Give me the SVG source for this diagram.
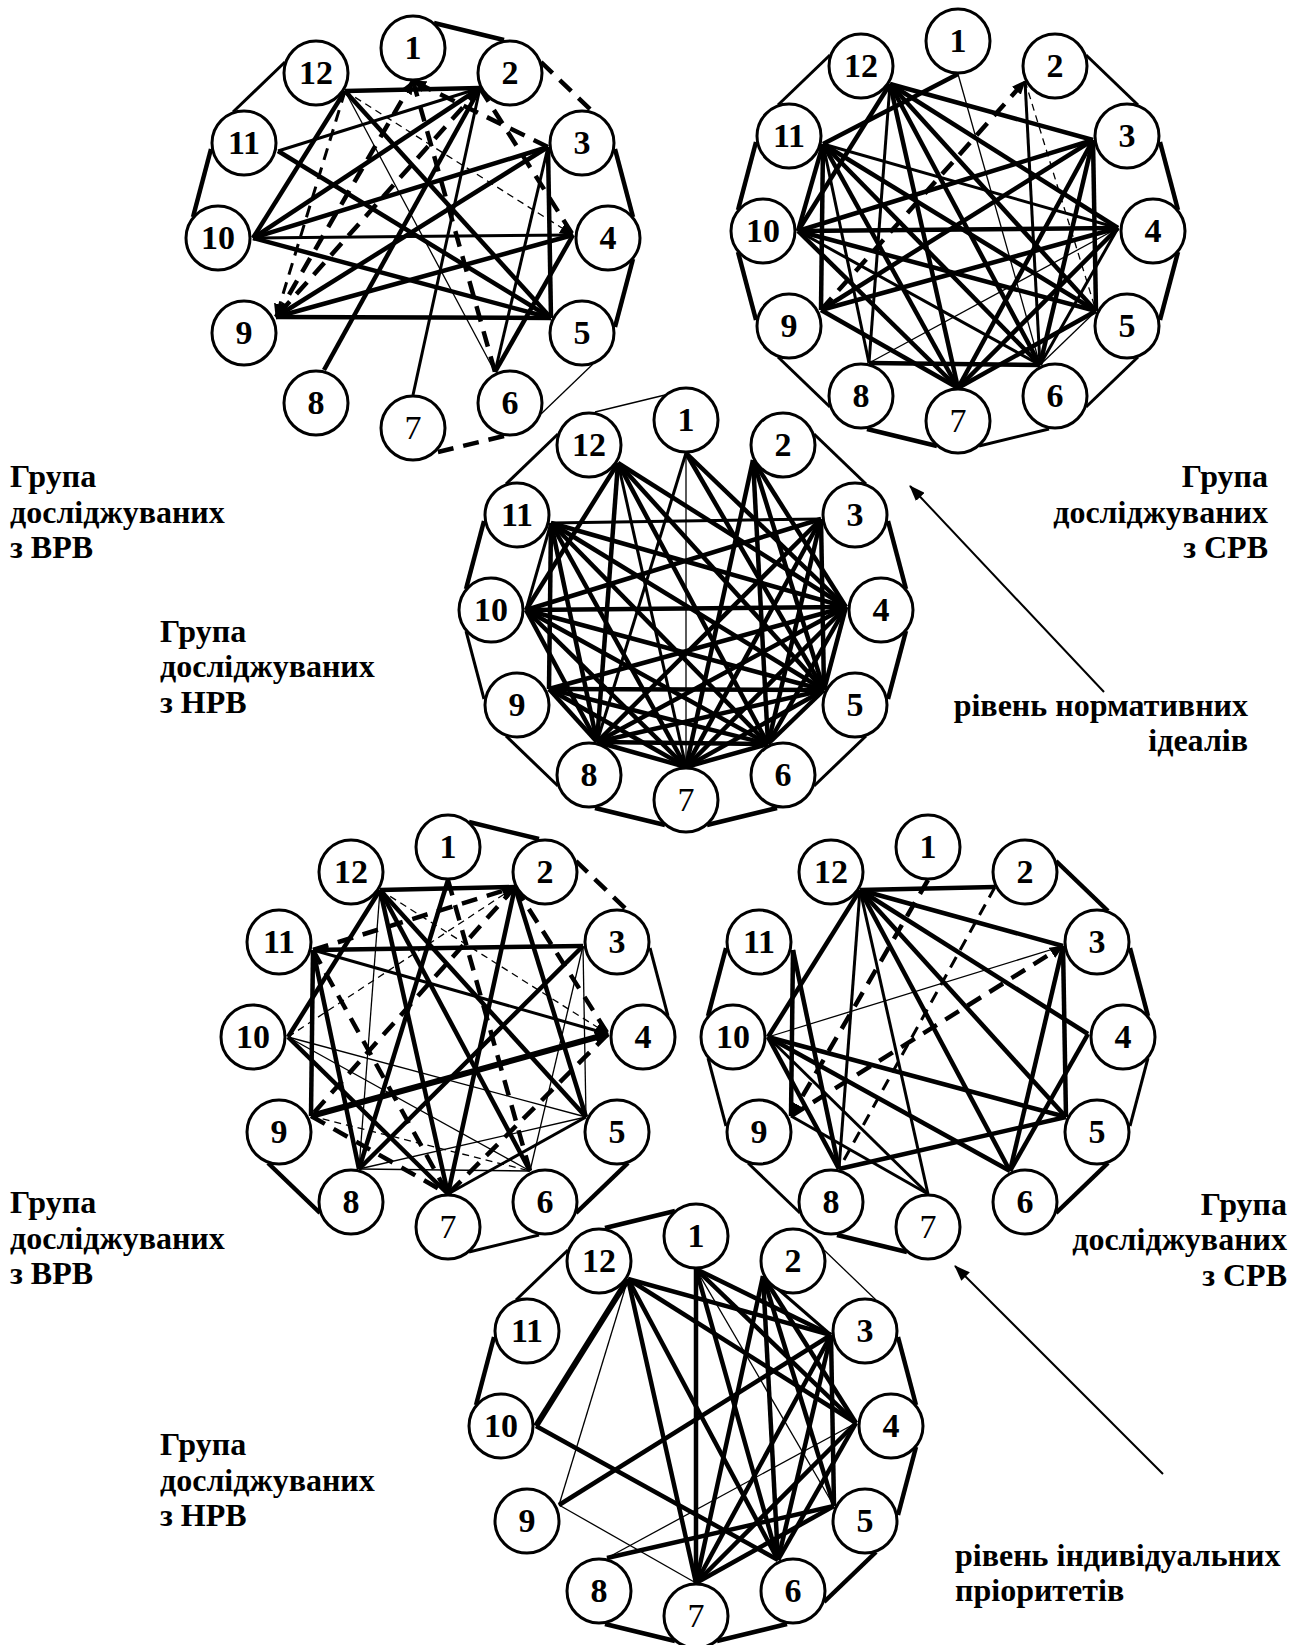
<svg xmlns="http://www.w3.org/2000/svg" width="1299" height="1645" viewBox="0 0 1299 1645">
<style>
.n circle{fill:#fff;stroke:#000;stroke-width:3}
.n text{font-family:"Liberation Serif",serif;font-weight:bold;font-size:34px;text-anchor:middle}
.n text.r{font-weight:normal}
.e path{fill:none;stroke:#000}
.k{stroke-width:4.5}
.x{stroke-width:6}
.m{stroke-width:3}
.s{stroke-width:1.3}
.dk{stroke-width:4.5;stroke-dasharray:16 10}
.dm{stroke-width:3;stroke-dasharray:12 8}
.ds{stroke-width:1.3;stroke-dasharray:7 5}
.lbl{font-family:"Liberation Serif",serif;font-weight:bold;font-size:32px}
.lbl.end{text-anchor:end}
.big{fill:none;stroke:#000;stroke-width:2}
</style>
<defs>
<marker id="ah" markerWidth="14" markerHeight="12" refX="13" refY="6" orient="auto" markerUnits="userSpaceOnUse"><path d="M0,0L14,6L0,12z"/></marker>
<marker id="ab" markerWidth="16" markerHeight="12" refX="15" refY="6" orient="auto" markerUnits="userSpaceOnUse"><path d="M0,0L16,6L0,12z"/></marker>
</defs>
<rect width="1299" height="1645" fill="#fff"/>

<!-- Diagram 1 -->
<g id="d1" transform="translate(413,238)">
<g id="d1-edges" class="e">
<path class="k" d="M-68,-147L67,-150"/>
<path class="k" d="M-68,-147L-160,0"/>
<path class="k" d="M-68,-147L138,80"/>
<path class="k" d="M67,-150L-160,0"/>
<path class="k" d="M67,-150L-89,132"/>
<path class="k" d="M-160,0L135,-91"/>
<path class="k" d="M-160,0L138,80"/>
<path class="k" d="M-135,-87L138,80"/>
<path class="k" d="M-137,79L135,-91"/>
<path class="k" d="M-137,79L160,-3"/>
<path class="k" d="M-137,79L138,80"/>
<path class="k" d="M135,-91L138,80"/>
<path class="k" d="M160,-3L82,134"/>
<path class="m" d="M-160,0L160,-3"/>
<path class="m" d="M67,-150L0,157"/>
<path class="m" d="M67,-150L-135,-87"/>
<path class="m" d="M135,-91L82,134"/>
<path class="s" d="M-68,-147L82,134"/>
<path class="ds" d="M-68,-147L160,-3" marker-end="url(#ah)"/>
<path class="dm" d="M-68,-147L-137,79" marker-end="url(#ah)"/>
<path class="dk" d="M67,-150L-137,79"/>
<path class="dk" d="M-137,79L0,-157" marker-end="url(#ah)"/>
<path class="dk" d="M135,-91L0,-157" marker-end="url(#ah)"/>
<path class="dk" d="M0,-157L82,134"/>
<path class="dk" d="M67,-150L160,-3"/>
<path class="k" d="M21,-215L91,-198"/>
<path class="dk" d="M128,-176L180,-126"/>
<path class="k" d="M202,-89L220,-21"/>
<path class="k" d="M220,21L202,89"/>
<path class="s" d="M180,126L128,176"/>
<path class="dk" d="M91,198L21,215"/>
<path class="k" d="M-220,-21L-202,-89"/>
<path class="m" d="M-180,-126L-128,-176"/>
</g>
<g id="d1-n1" class="n"><circle cx="0" cy="-190" r="32"/><text x="0" y="-179">1</text></g>
<g id="d1-n2" class="n"><circle cx="97" cy="-165" r="32"/><text x="97" y="-154">2</text></g>
<g id="d1-n3" class="n"><circle cx="169" cy="-95" r="32"/><text x="169" y="-84">3</text></g>
<g id="d1-n4" class="n"><circle cx="195" cy="0" r="32"/><text x="195" y="11">4</text></g>
<g id="d1-n5" class="n"><circle cx="169" cy="95" r="32"/><text x="169" y="106">5</text></g>
<g id="d1-n6" class="n"><circle cx="97" cy="165" r="32"/><text x="97" y="176">6</text></g>
<g id="d1-n7" class="n"><circle cx="0" cy="190" r="32"/><text class="r" x="0" y="201">7</text></g>
<g id="d1-n8" class="n"><circle cx="-97" cy="165" r="32"/><text x="-97" y="176">8</text></g>
<g id="d1-n9" class="n"><circle cx="-169" cy="95" r="32"/><text x="-169" y="106">9</text></g>
<g id="d1-n10" class="n"><circle cx="-195" cy="0" r="32"/><text x="-195" y="11">10</text></g>
<g id="d1-n11" class="n"><circle cx="-169" cy="-95" r="32"/><text x="-169" y="-84">11</text></g>
<g id="d1-n12" class="n"><circle cx="-97" cy="-165" r="32"/><text x="-97" y="-154">12</text></g>
</g>

<!-- Diagram 2 -->
<g id="d2" transform="translate(958,231)">
<g id="d2-edges" class="e">
<path class="k" d="M-68,-147L135,-91"/>
<path class="k" d="M-68,-147L160,-3"/>
<path class="k" d="M-68,-147L138,80"/>
<path class="k" d="M-68,-147L82,134"/>
<path class="k" d="M-68,-147L0,157"/>
<path class="k" d="M-68,-147L-160,0"/>
<path class="k" d="M-135,-87L0,-157"/>
<path class="k" d="M-135,-87L-137,79"/>
<path class="k" d="M-135,-87L0,157"/>
<path class="k" d="M-135,-87L82,134"/>
<path class="k" d="M-135,-87L138,80"/>
<path class="k" d="M-135,-87L-160,0"/>
<path class="k" d="M-160,0L160,-3"/>
<path class="k" d="M-160,0L135,-91"/>
<path class="k" d="M-160,0L138,80"/>
<path class="k" d="M-160,0L0,157"/>
<path class="k" d="M-137,79L135,-91"/>
<path class="k" d="M-137,79L160,-3"/>
<path class="k" d="M-137,79L0,157"/>
<path class="k" d="M-89,132L82,134"/>
<path class="k" d="M0,157L135,-91"/>
<path class="k" d="M0,157L160,-3"/>
<path class="k" d="M0,157L138,80"/>
<path class="k" d="M82,134L135,-91"/>
<path class="k" d="M138,80L135,-91"/>
<path class="m" d="M-68,-147L-89,132"/>
<path class="m" d="M-135,-87L-89,132"/>
<path class="m" d="M-135,-87L160,-3"/>
<path class="m" d="M67,-150L82,134"/>
<path class="m" d="M82,134L160,-3"/>
<path class="m" d="M-160,0L82,134"/>
<path class="s" d="M0,-157L82,134"/>
<path class="s" d="M-89,132L160,-3"/>
<path class="s" d="M82,134L138,80"/>
<path class="dk" d="M-137,79L67,-150" marker-end="url(#ah)"/>
<path class="ds" d="M67,-150L138,80"/>
<path class="m" d="M128,-176L180,-126"/>
<path class="k" d="M202,-89L220,-21"/>
<path class="k" d="M220,21L202,89"/>
<path class="m" d="M180,126L128,176"/>
<path class="m" d="M91,198L21,215"/>
<path class="k" d="M-21,215L-91,198"/>
<path class="m" d="M-128,176L-180,126"/>
<path class="k" d="M-202,89L-220,21"/>
<path class="k" d="M-220,-21L-202,-89"/>
<path class="m" d="M-180,-126L-128,-176"/>
</g>
<g id="d2-n1" class="n"><circle cx="0" cy="-190" r="32"/><text x="0" y="-179">1</text></g>
<g id="d2-n2" class="n"><circle cx="97" cy="-165" r="32"/><text x="97" y="-154">2</text></g>
<g id="d2-n3" class="n"><circle cx="169" cy="-95" r="32"/><text x="169" y="-84">3</text></g>
<g id="d2-n4" class="n"><circle cx="195" cy="0" r="32"/><text x="195" y="11">4</text></g>
<g id="d2-n5" class="n"><circle cx="169" cy="95" r="32"/><text x="169" y="106">5</text></g>
<g id="d2-n6" class="n"><circle cx="97" cy="165" r="32"/><text x="97" y="176">6</text></g>
<g id="d2-n7" class="n"><circle cx="0" cy="190" r="32"/><text class="r" x="0" y="201">7</text></g>
<g id="d2-n8" class="n"><circle cx="-97" cy="165" r="32"/><text x="-97" y="176">8</text></g>
<g id="d2-n9" class="n"><circle cx="-169" cy="95" r="32"/><text x="-169" y="106">9</text></g>
<g id="d2-n10" class="n"><circle cx="-195" cy="0" r="32"/><text x="-195" y="11">10</text></g>
<g id="d2-n11" class="n"><circle cx="-169" cy="-95" r="32"/><text x="-169" y="-84">11</text></g>
<g id="d2-n12" class="n"><circle cx="-97" cy="-165" r="32"/><text x="-97" y="-154">12</text></g>
</g>

<!-- Diagram 3 -->
<g id="d3" transform="translate(686,610)">
<g id="d3-edges" class="e">
<path class="s" d="M0,-157L0,157"/>
<path class="m" d="M0,-157L-89,132"/>
<path class="k" d="M0,-157L160,-3"/>
<path class="k" d="M0,-157L138,80"/>
<path class="k" d="M-68,-147L-160,0"/>
<path class="k" d="M-68,-147L-89,132"/>
<path class="k" d="M-68,-147L82,134"/>
<path class="k" d="M-68,-147L138,80"/>
<path class="k" d="M-68,-147L160,-3"/>
<path class="m" d="M-68,-147L0,157"/>
<path class="k" d="M67,-150L0,157"/>
<path class="k" d="M67,-150L82,134"/>
<path class="k" d="M67,-150L138,80"/>
<path class="k" d="M67,-150L160,-3"/>
<path class="m" d="M-135,-87L135,-91"/>
<path class="k" d="M-135,-87L160,-3"/>
<path class="k" d="M-135,-87L138,80"/>
<path class="k" d="M-135,-87L82,134"/>
<path class="k" d="M-135,-87L0,157"/>
<path class="k" d="M-135,-87L-89,132"/>
<path class="k" d="M-135,-87L-137,79"/>
<path class="k" d="M-160,0L135,-91"/>
<path class="k" d="M-160,0L160,-3"/>
<path class="k" d="M-160,0L138,80"/>
<path class="k" d="M-160,0L82,134"/>
<path class="k" d="M-160,0L0,157"/>
<path class="k" d="M-160,0L-89,132"/>
<path class="m" d="M-160,0L-135,-87"/>
<path class="k" d="M-137,79L160,-3"/>
<path class="k" d="M-137,79L138,80"/>
<path class="k" d="M-137,79L82,134"/>
<path class="k" d="M-137,79L0,157"/>
<path class="k" d="M-137,79L-89,132"/>
<path class="k" d="M-89,132L135,-91"/>
<path class="k" d="M-89,132L160,-3"/>
<path class="k" d="M-89,132L82,134"/>
<path class="k" d="M-89,132L138,80"/>
<path class="k" d="M0,157L135,-91"/>
<path class="k" d="M0,157L160,-3"/>
<path class="k" d="M0,157L138,80"/>
<path class="k" d="M0,157L-89,132"/>
<path class="k" d="M0,157L82,134"/>
<path class="k" d="M82,134L135,-91"/>
<path class="k" d="M82,134L160,-3"/>
<path class="k" d="M82,134L138,80"/>
<path class="k" d="M138,80L135,-91"/>
<path class="k" d="M138,80L160,-3"/>
<path class="s" d="M-91,-198L-21,-215"/>
<path class="m" d="M128,-176L180,-126"/>
<path class="k" d="M202,-89L220,-21"/>
<path class="k" d="M220,21L202,89"/>
<path class="m" d="M180,126L128,176"/>
<path class="k" d="M91,198L21,215"/>
<path class="k" d="M-21,215L-91,198"/>
<path class="m" d="M-128,176L-180,126"/>
<path class="m" d="M-202,89L-220,21"/>
<path class="k" d="M-220,-21L-202,-89"/>
<path class="m" d="M-180,-126L-128,-176"/>
</g>
<g id="d3-n1" class="n"><circle cx="0" cy="-190" r="32"/><text x="0" y="-179">1</text></g>
<g id="d3-n2" class="n"><circle cx="97" cy="-165" r="32"/><text x="97" y="-154">2</text></g>
<g id="d3-n3" class="n"><circle cx="169" cy="-95" r="32"/><text x="169" y="-84">3</text></g>
<g id="d3-n4" class="n"><circle cx="195" cy="0" r="32"/><text x="195" y="11">4</text></g>
<g id="d3-n5" class="n"><circle cx="169" cy="95" r="32"/><text x="169" y="106">5</text></g>
<g id="d3-n6" class="n"><circle cx="97" cy="165" r="32"/><text x="97" y="176">6</text></g>
<g id="d3-n7" class="n"><circle cx="0" cy="190" r="32"/><text class="r" x="0" y="201">7</text></g>
<g id="d3-n8" class="n"><circle cx="-97" cy="165" r="32"/><text x="-97" y="176">8</text></g>
<g id="d3-n9" class="n"><circle cx="-169" cy="95" r="32"/><text x="-169" y="106">9</text></g>
<g id="d3-n10" class="n"><circle cx="-195" cy="0" r="32"/><text x="-195" y="11">10</text></g>
<g id="d3-n11" class="n"><circle cx="-169" cy="-95" r="32"/><text x="-169" y="-84">11</text></g>
<g id="d3-n12" class="n"><circle cx="-97" cy="-165" r="32"/><text x="-97" y="-154">12</text></g>
</g>

<!-- Diagram 4 -->
<g id="d4" transform="translate(448,1037)">
<g id="d4-edges" class="e">
<path class="k" d="M-68,-147L67,-150"/>
<path class="k" d="M-68,-147L-160,0"/>
<path class="k" d="M-68,-147L0,157"/>
<path class="k" d="M-68,-147L82,134"/>
<path class="k" d="M-68,-147L138,80"/>
<path class="k" d="M-135,-87L135,-91"/>
<path class="k" d="M-135,-87L-137,79"/>
<path class="k" d="M-135,-87L-89,132"/>
<path class="k" d="M-160,0L0,157"/>
<path class="x" d="M-137,79L160,-3" marker-end="url(#ah)"/>
<path class="k" d="M-89,132L0,-157"/>
<path class="k" d="M-89,132L135,-91"/>
<path class="k" d="M0,157L67,-150"/>
<path class="k" d="M138,80L67,-150"/>
<path class="m" d="M-135,-87L160,-3"/>
<path class="m" d="M0,157L138,80"/>
<path class="s" d="M-68,-147L-89,132"/>
<path class="s" d="M-160,0L138,80"/>
<path class="s" d="M-160,0L82,134"/>
<path class="s" d="M-89,132L138,80"/>
<path class="s" d="M-89,132L82,134"/>
<path class="s" d="M82,134L135,-91"/>
<path class="s" d="M138,80L135,-91"/>
<path class="dk" d="M-135,-87L67,-150" marker-end="url(#ah)"/>
<path class="dk" d="M-135,-87L0,157" marker-end="url(#ah)"/>
<path class="dk" d="M0,-157L82,134"/>
<path class="dk" d="M67,-150L160,-3"/>
<path class="dk" d="M-137,79L0,157"/>
<path class="dk" d="M160,-3L0,157"/>
<path class="dk" d="M67,-150L-137,79"/>
<path class="ds" d="M-160,0L67,-150" marker-end="url(#ah)"/>
<path class="ds" d="M-68,-147L160,-3" marker-end="url(#ah)"/>
<path class="ds" d="M-137,79L82,134"/>
<path class="k" d="M21,-215L91,-198"/>
<path class="dk" d="M128,-176L180,-126"/>
<path class="m" d="M202,-89L220,-21"/>
<path class="k" d="M180,126L128,176"/>
<path class="m" d="M91,198L21,215"/>
<path class="k" d="M-128,176L-180,126"/>
</g>
<g id="d4-n1" class="n"><circle cx="0" cy="-190" r="32"/><text x="0" y="-179">1</text></g>
<g id="d4-n2" class="n"><circle cx="97" cy="-165" r="32"/><text x="97" y="-154">2</text></g>
<g id="d4-n3" class="n"><circle cx="169" cy="-95" r="32"/><text x="169" y="-84">3</text></g>
<g id="d4-n4" class="n"><circle cx="195" cy="0" r="32"/><text x="195" y="11">4</text></g>
<g id="d4-n5" class="n"><circle cx="169" cy="95" r="32"/><text x="169" y="106">5</text></g>
<g id="d4-n6" class="n"><circle cx="97" cy="165" r="32"/><text x="97" y="176">6</text></g>
<g id="d4-n7" class="n"><circle cx="0" cy="190" r="32"/><text class="r" x="0" y="201">7</text></g>
<g id="d4-n8" class="n"><circle cx="-97" cy="165" r="32"/><text x="-97" y="176">8</text></g>
<g id="d4-n9" class="n"><circle cx="-169" cy="95" r="32"/><text x="-169" y="106">9</text></g>
<g id="d4-n10" class="n"><circle cx="-195" cy="0" r="32"/><text x="-195" y="11">10</text></g>
<g id="d4-n11" class="n"><circle cx="-169" cy="-95" r="32"/><text x="-169" y="-84">11</text></g>
<g id="d4-n12" class="n"><circle cx="-97" cy="-165" r="32"/><text x="-97" y="-154">12</text></g>
</g>

<!-- Diagram 5 -->
<g id="d5" transform="translate(928,1037)">
<g id="d5-edges" class="e">
<path class="k" d="M-68,-147L67,-150"/>
<path class="k" d="M-68,-147L135,-91"/>
<path class="k" d="M-68,-147L160,-3"/>
<path class="k" d="M-68,-147L138,80"/>
<path class="k" d="M-68,-147L82,134"/>
<path class="k" d="M-68,-147L-160,0"/>
<path class="k" d="M-160,0L138,80"/>
<path class="k" d="M-160,0L82,134"/>
<path class="k" d="M-160,0L-89,132"/>
<path class="k" d="M-135,-87L-137,79"/>
<path class="k" d="M-135,-87L-89,132"/>
<path class="k" d="M-89,132L138,80"/>
<path class="k" d="M82,134L135,-91"/>
<path class="k" d="M82,134L160,-3"/>
<path class="k" d="M138,80L135,-91"/>
<path class="m" d="M-68,-147L0,157"/>
<path class="m" d="M-68,-147L-89,132"/>
<path class="m" d="M-160,0L0,157"/>
<path class="m" d="M-137,79L0,157"/>
<path class="s" d="M-160,0L135,-91"/>
<path class="dk" d="M0,-157L-137,79" marker-end="url(#ah)"/>
<path class="dk" d="M-137,79L135,-91" marker-end="url(#ah)"/>
<path class="dm" d="M67,-150L-89,132"/>
<path class="k" d="M128,-176L180,-126"/>
<path class="k" d="M202,-89L220,-21"/>
<path class="m" d="M220,21L202,89"/>
<path class="k" d="M180,126L128,176"/>
<path class="k" d="M-21,215L-91,198"/>
<path class="m" d="M-128,176L-180,126"/>
<path class="m" d="M-202,89L-220,21"/>
<path class="k" d="M-220,-21L-202,-89"/>
</g>
<g id="d5-n1" class="n"><circle cx="0" cy="-190" r="32"/><text x="0" y="-179">1</text></g>
<g id="d5-n2" class="n"><circle cx="97" cy="-165" r="32"/><text x="97" y="-154">2</text></g>
<g id="d5-n3" class="n"><circle cx="169" cy="-95" r="32"/><text x="169" y="-84">3</text></g>
<g id="d5-n4" class="n"><circle cx="195" cy="0" r="32"/><text x="195" y="11">4</text></g>
<g id="d5-n5" class="n"><circle cx="169" cy="95" r="32"/><text x="169" y="106">5</text></g>
<g id="d5-n6" class="n"><circle cx="97" cy="165" r="32"/><text x="97" y="176">6</text></g>
<g id="d5-n7" class="n"><circle cx="0" cy="190" r="32"/><text class="r" x="0" y="201">7</text></g>
<g id="d5-n8" class="n"><circle cx="-97" cy="165" r="32"/><text x="-97" y="176">8</text></g>
<g id="d5-n9" class="n"><circle cx="-169" cy="95" r="32"/><text x="-169" y="106">9</text></g>
<g id="d5-n10" class="n"><circle cx="-195" cy="0" r="32"/><text x="-195" y="11">10</text></g>
<g id="d5-n11" class="n"><circle cx="-169" cy="-95" r="32"/><text x="-169" y="-84">11</text></g>
<g id="d5-n12" class="n"><circle cx="-97" cy="-165" r="32"/><text x="-97" y="-154">12</text></g>
</g>

<!-- Diagram 6 -->
<g id="d6" transform="translate(696,1426)">
<g id="d6-edges" class="e">
<path class="x" d="M-68,-147L-160,0"/>
<path class="k" d="M-68,-147L0,157"/>
<path class="k" d="M-68,-147L82,134"/>
<path class="k" d="M-68,-147L160,-3"/>
<path class="k" d="M-68,-147L135,-91"/>
<path class="k" d="M0,-157L0,157"/>
<path class="k" d="M0,-157L82,134"/>
<path class="k" d="M0,-157L160,-3"/>
<path class="k" d="M0,-157L135,-91"/>
<path class="k" d="M67,-150L0,157"/>
<path class="k" d="M67,-150L82,134"/>
<path class="k" d="M67,-150L138,80"/>
<path class="k" d="M67,-150L160,-3"/>
<path class="k" d="M135,-91L-137,79"/>
<path class="k" d="M135,-91L0,157"/>
<path class="k" d="M135,-91L82,134"/>
<path class="k" d="M135,-91L138,80"/>
<path class="k" d="M160,-3L0,157"/>
<path class="k" d="M160,-3L82,134"/>
<path class="k" d="M138,80L-89,132"/>
<path class="k" d="M138,80L0,157"/>
<path class="k" d="M-160,0L82,134"/>
<path class="m" d="M67,-150L135,-91"/>
<path class="s" d="M-68,-147L-137,79"/>
<path class="s" d="M0,-157L138,80"/>
<path class="s" d="M160,-3L-89,132"/>
<path class="s" d="M-137,79L0,157"/>
<path class="k" d="M-91,-198L-21,-215"/>
<path class="s" d="M128,-176L180,-126"/>
<path class="k" d="M202,-89L220,-21"/>
<path class="k" d="M220,21L202,89"/>
<path class="k" d="M180,126L128,176"/>
<path class="k" d="M91,198L21,215"/>
<path class="k" d="M-21,215L-91,198"/>
<path class="k" d="M-220,-21L-202,-89"/>
<path class="m" d="M-180,-126L-128,-176"/>
</g>
<g id="d6-n1" class="n"><circle cx="0" cy="-190" r="32"/><text x="0" y="-179">1</text></g>
<g id="d6-n2" class="n"><circle cx="97" cy="-165" r="32"/><text x="97" y="-154">2</text></g>
<g id="d6-n3" class="n"><circle cx="169" cy="-95" r="32"/><text x="169" y="-84">3</text></g>
<g id="d6-n4" class="n"><circle cx="195" cy="0" r="32"/><text x="195" y="11">4</text></g>
<g id="d6-n5" class="n"><circle cx="169" cy="95" r="32"/><text x="169" y="106">5</text></g>
<g id="d6-n6" class="n"><circle cx="97" cy="165" r="32"/><text x="97" y="176">6</text></g>
<g id="d6-n7" class="n"><circle cx="0" cy="190" r="32"/><text class="r" x="0" y="201">7</text></g>
<g id="d6-n8" class="n"><circle cx="-97" cy="165" r="32"/><text x="-97" y="176">8</text></g>
<g id="d6-n9" class="n"><circle cx="-169" cy="95" r="32"/><text x="-169" y="106">9</text></g>
<g id="d6-n10" class="n"><circle cx="-195" cy="0" r="32"/><text x="-195" y="11">10</text></g>
<g id="d6-n11" class="n"><circle cx="-169" cy="-95" r="32"/><text x="-169" y="-84">11</text></g>
<g id="d6-n12" class="n"><circle cx="-97" cy="-165" r="32"/><text x="-97" y="-154">12</text></g>
</g>

<!-- Pointer arrows -->
<g id="pointers">
<path class="big" d="M1104,692L910,486" marker-end="url(#ab)"/>
<path class="big" d="M1163,1474L955,1266" marker-end="url(#ab)"/>
</g>

<!-- Labels -->
<g id="labels">
<text class="lbl" x="10" y="487">Група</text>
<text class="lbl" x="10" y="523">досліджуваних</text>
<text class="lbl" x="10" y="558">з ВРВ</text>
<text class="lbl end" x="1268" y="487">Група</text>
<text class="lbl end" x="1268" y="523">досліджуваних</text>
<text class="lbl end" x="1268" y="558">з СРВ</text>
<text class="lbl" x="160" y="642">Група</text>
<text class="lbl" x="160" y="677">досліджуваних</text>
<text class="lbl" x="160" y="713">з НРВ</text>
<text class="lbl end" x="1248" y="716">рівень нормативних</text>
<text class="lbl end" x="1248" y="751">ідеалів</text>
<text class="lbl" x="10" y="1213">Група</text>
<text class="lbl" x="10" y="1249">досліджуваних</text>
<text class="lbl" x="10" y="1284">з ВРВ</text>
<text class="lbl end" x="1287" y="1215">Група</text>
<text class="lbl end" x="1287" y="1250">досліджуваних</text>
<text class="lbl end" x="1287" y="1286">з СРВ</text>
<text class="lbl" x="160" y="1455">Група</text>
<text class="lbl" x="160" y="1491">досліджуваних</text>
<text class="lbl" x="160" y="1526">з НРВ</text>
<text class="lbl" x="955" y="1566">рівень індивідуальних</text>
<text class="lbl" x="955" y="1601">пріоритетів</text>
</g>
</svg>
